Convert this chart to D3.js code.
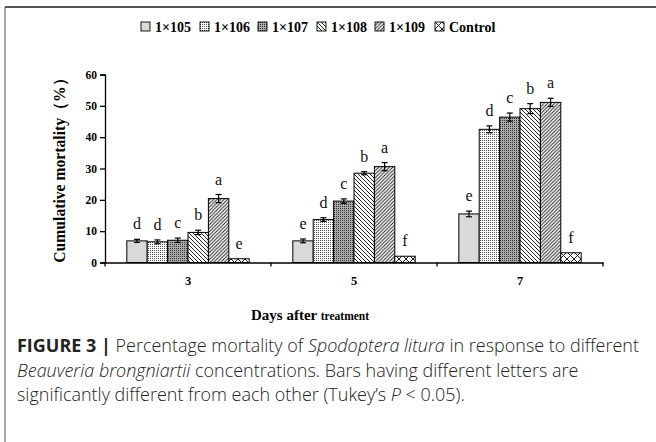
<!DOCTYPE html>
<html>
<head>
<meta charset="utf-8">
<script src="https://cdn.jsdelivr.net/npm/d3@7"></script>
<style>
  body { margin: 0; background: #fff; }
  svg { display: block; }
</style>
</head>
<body>
<svg id="chart"></svg>
<script>
const days = ["3", "5", "7"];
const seriesNames = ["1×105", "1×106", "1×107", "1×108", "1×109", "Control"];
// mortality (%) per series, one value per day
const mortality = [
  [6.9, 6.9, 15.5],
  [6.6, 13.7, 42.5],
  [7.1, 19.6, 46.4],
  [9.6, 28.5, 49.1],
  [20.4, 30.6, 51.1],
  [1.2, 2.0, 3.1]
];
const errors = [
  [0.5, 0.6, 0.9],
  [0.6, 0.6, 1.1],
  [0.7, 0.7, 1.3],
  [0.7, 0.5, 1.6],
  [1.3, 1.3, 1.3],
  [0, 0, 0]
];
const letters = [
  ["d", "e", "e"],
  ["d", "d", "d"],
  ["c", "c", "c"],
  ["b", "b", "b"],
  ["a", "a", "a"],
  ["e", "f", "f"]
];
const yTicks = [0, 10, 20, 30, 40, 50, 60];

const width = 656, height = 442;
const margin = { top: 74.5, right: 53, bottom: 179.5, left: 105 };
const serif = "'Liberation Serif', 'Times New Roman', serif";

const svg = d3.select("#chart").attr("width", width).attr("height", height);

// patterns
const defs = svg.append("defs");
function pat(id, w, h, draw) {
  const p = defs.append("pattern").attr("id", id)
    .attr("patternUnits", "userSpaceOnUse").attr("width", w).attr("height", h);
  draw(p);
}
pat("p0", 4, 4, p => p.append("rect").attr("width", 4).attr("height", 4).attr("fill", "#d9d9d9"));
pat("p1", 2, 2, p => {
  p.append("rect").attr("width", 2).attr("height", 2).attr("fill", "#fff");
  p.append("rect").attr("width", 1).attr("height", 1).attr("fill", "#555");
});
pat("p2", 2, 2, p => {
  p.append("rect").attr("width", 2).attr("height", 2).attr("fill", "#aaa");
  p.append("rect").attr("width", 1).attr("height", 1).attr("fill", "#333");
});
pat("p3", 4, 4, p => {
  p.append("rect").attr("width", 4).attr("height", 4).attr("fill", "#fff");
  p.append("path").attr("d", "M-1,-1L5,5M-1,3L1,5M3,-1L5,1").attr("stroke", "#222").attr("stroke-width", 1);
});
pat("p4", 3.5, 3.5, p => {
  p.append("rect").attr("width", 3.5).attr("height", 3.5).attr("fill", "#fff");
  p.append("path").attr("d", "M-1,4.5L4.5,-1M-1,1L1,-1M2.5,4.5L4.5,2.5").attr("stroke", "#222").attr("stroke-width", 1);
});
pat("p5", 7, 7, p => {
  p.append("rect").attr("width", 7).attr("height", 7).attr("fill", "#fff");
  p.append("path").attr("d", "M0,0L7,7M7,0L0,7").attr("stroke", "#222").attr("stroke-width", 1);
});
const fills = seriesNames.map((d, i) => `url(#p${i})`);

// frame
svg.append("line").attr("x1", 5).attr("x2", width).attr("y1", 7).attr("y2", 7)
  .attr("stroke", "#555").attr("stroke-width", 2);
svg.append("line").attr("x1", 5).attr("x2", 5).attr("y1", 7).attr("y2", height)
  .attr("stroke", "#555").attr("stroke-width", 1);

// scales
const x0 = d3.scaleBand().domain(days)
  .range([margin.left, width - margin.right]).padding(0);
const x1 = d3.scaleBand().domain(d3.range(seriesNames.length))
  .range([0, x0.bandwidth()]).paddingInner(0).paddingOuter(1.07);
const y = d3.scaleLinear().domain([0, 60])
  .range([height - margin.bottom, margin.top]);

// y axis
const yAxis = svg.append("g")
  .attr("transform", `translate(${margin.left},0)`)
  .call(d3.axisLeft(y).tickValues(yTicks).tickSize(5).tickSizeOuter(5).tickPadding(3));
yAxis.select(".domain").attr("stroke", "#000").attr("stroke-width", 1.3);
yAxis.selectAll(".tick line").attr("stroke-width", 1.3);
yAxis.selectAll("text").attr("font-family", serif).attr("font-weight", "bold")
  .attr("font-size", 11.5).attr("fill", "#000");

// bars
const barData = [];
seriesNames.forEach((s, i) => days.forEach((d, j) => {
  barData.push({ s: i, day: d, v: mortality[i][j], e: errors[i][j], l: letters[i][j] });
}));

svg.append("g").selectAll("rect")
  .data(barData).enter().append("rect")
  .attr("x", d => x0(d.day) + x1(d.s))
  .attr("y", d => y(d.v))
  .attr("width", x1.bandwidth())
  .attr("height", d => y(0) - y(d.v))
  .attr("fill", d => fills[d.s])
  .attr("stroke", "#000").attr("stroke-width", 1);

// error bars
const eb = svg.append("g").selectAll("g")
  .data(barData.filter(d => d.e > 0)).enter().append("g")
  .attr("stroke", "#000").attr("stroke-width", 1.2);
const cx = d => x0(d.day) + x1(d.s) + x1.bandwidth() / 2;
eb.append("line").attr("x1", cx).attr("x2", cx)
  .attr("y1", d => y(d.v - d.e)).attr("y2", d => y(d.v + d.e));
eb.append("line").attr("x1", d => cx(d) - 3).attr("x2", d => cx(d) + 3)
  .attr("y1", d => y(d.v + d.e)).attr("y2", d => y(d.v + d.e));
eb.append("line").attr("x1", d => cx(d) - 3).attr("x2", d => cx(d) + 3)
  .attr("y1", d => y(d.v - d.e)).attr("y2", d => y(d.v - d.e));

// letters
svg.append("g").selectAll("text")
  .data(barData).enter().append("text")
  .attr("x", cx)
  .attr("y", d => y(d.v + d.e) - 10)
  .attr("text-anchor", "middle")
  .attr("font-family", serif).attr("font-size", 16).attr("fill", "#111")
  .text(d => d.l);

// x axis
const xAxis = svg.append("g")
  .attr("transform", `translate(0,${y(0)})`)
  .call(d3.axisBottom(x0).tickSize(0).tickPadding(14));
xAxis.select(".domain").attr("stroke", "#000").attr("stroke-width", 1.3);
xAxis.selectAll("text").attr("font-family", serif).attr("font-weight", "bold")
  .attr("font-size", 12.5).attr("fill", "#000");
const bounds = days.map(d => x0(d)).concat([x0(days[days.length - 1]) + x0.bandwidth()]);
xAxis.selectAll(".sep").data(bounds).enter().append("line")
  .attr("x1", d => d).attr("x2", d => d).attr("y1", 0).attr("y2", 4)
  .attr("stroke", "#000").attr("stroke-width", 1.3);

// axis titles
const yTitle = svg.append("text")
  .attr("transform", `translate(65,${(y(0) + y(60)) / 2 - 2}) rotate(-90)`)
  .attr("text-anchor", "middle")
  .attr("font-family", serif).attr("font-weight", "bold").attr("font-size", 14)
  .text("Cumulative mortality（%）");
// fit the title to the length seen in the figure
yTitle.attr("font-size", 14 * 192 / yTitle.node().getComputedTextLength());

const xt = svg.append("text")
  .attr("x", 251).attr("y", 320)
  .attr("font-family", serif).attr("font-weight", "bold");
xt.append("tspan").attr("font-size", 15).text("Days after ");
xt.append("tspan").attr("font-size", 11.5).text("treatment");

// legend
const leg = svg.append("g").attr("transform", "translate(141,22)");
const legX = [0, 59, 117, 176, 234, 294];
seriesNames.forEach((s, i) => {
  const g = leg.append("g").attr("transform", `translate(${legX[i]},0)`);
  g.append("rect").attr("width", 9).attr("height", 9)
    .attr("fill", fills[i]).attr("stroke", "#000").attr("stroke-width", 0.9);
  g.append("text").attr("x", 14).attr("y", 9.5)
    .attr("font-family", serif).attr("font-weight", "bold").attr("font-size", 14)
    .text(s);
});

// caption
const sans = "'Open Sans', 'Liberation Sans', Arial, sans-serif";
const cap = svg.append("g").attr("font-family", sans).attr("font-size", 16)
  .attr("fill", "#222").attr("font-weight", 300);
const capLines = [
  [["FIGURE 3 | ", "b"], ["Percentage mortality of ", ""], ["Spodoptera litura", "i"], [" in response to different", ""]],
  [["Beauveria brongniartii", "i"], [" concentrations. Bars having different letters are", ""]],
  [["significantly different from each other (Tukey’s ", ""], ["P", "i"], [" < 0.05).", ""]]
];
const capTexts = capLines.map((line, k) => {
  const t = cap.append("text").attr("x", 17).attr("y", 352 + k * 24.5);
  line.forEach(([str, st]) => {
    const ts = t.append("tspan").text(str);
    if (st === "b") ts.attr("font-weight", 700);
    if (st === "i") ts.attr("font-style", "italic");
  });
  return t;
});
// first caption line runs from x=17 to about x=640
const w1 = capTexts[0].node().getComputedTextLength();
cap.attr("font-size", 16 * 622 / w1);
</script>
</body>
</html>
